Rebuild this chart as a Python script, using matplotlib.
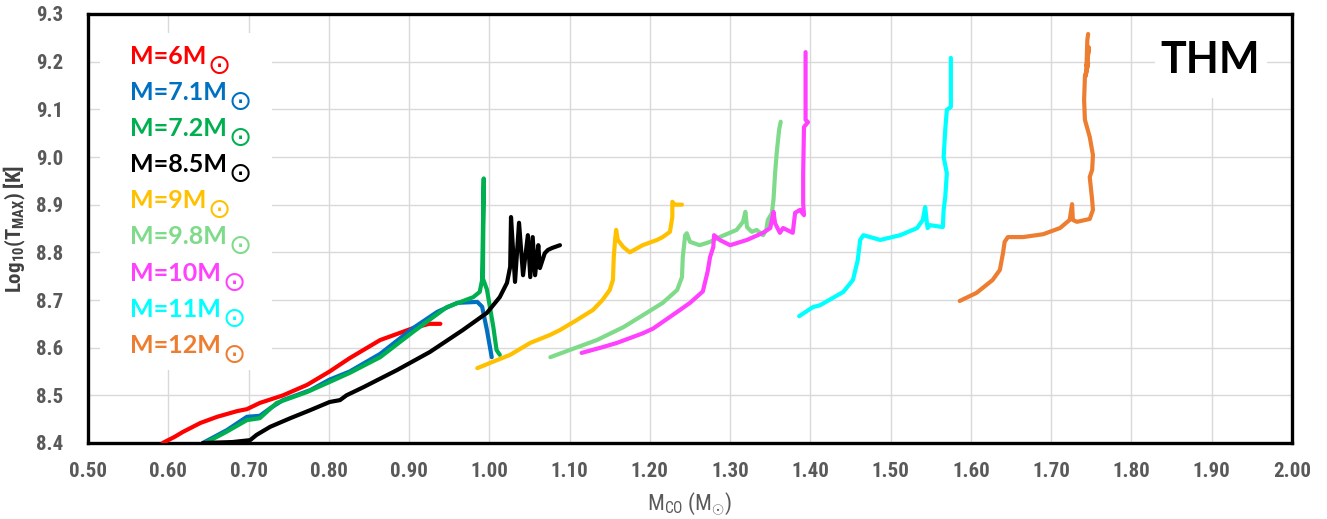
import matplotlib
matplotlib.use("Agg")
import matplotlib.pyplot as plt
from matplotlib import font_manager as fm
from matplotlib.patches import Rectangle
import os

# ---- data: CO core mass (Msun) vs log10 of maximum temperature (K) ----
red_x = [0.593, 0.608, 0.618, 0.640, 0.661, 0.686, 0.698, 0.714, 0.743, 0.773, 0.801, 0.826, 0.864, 0.905, 0.925, 0.939]
red_y = [8.400, 8.413, 8.423, 8.442, 8.455, 8.467, 8.471, 8.484, 8.500, 8.522, 8.550, 8.578, 8.616, 8.641, 8.650, 8.650]

blue_x = [0.643, 0.673, 0.698, 0.714, 0.727, 0.743, 0.777, 0.801, 0.826, 0.864, 0.905, 0.935, 0.960, 0.985, 0.991, 0.997, 1.003]
blue_y = [8.400, 8.427, 8.455, 8.457, 8.473, 8.490, 8.511, 8.533, 8.550, 8.587, 8.641, 8.675, 8.694, 8.696, 8.686, 8.637, 8.580]

green_x = [0.646, 0.672, 0.698, 0.714, 0.735, 0.773, 0.801, 0.826, 0.864, 0.905, 0.947, 0.980, 0.988, 0.991,
           0.993, 0.992, 0.997, 1.005, 1.009, 1.013]
green_y = [8.400, 8.423, 8.448, 8.452, 8.484, 8.507, 8.528, 8.547, 8.580, 8.633, 8.685, 8.706, 8.717, 8.742,
           8.955, 8.745, 8.722, 8.643, 8.595, 8.585]

black_x = [0.643, 0.680, 0.702, 0.710, 0.727, 0.752, 0.777, 0.801, 0.814, 0.822, 0.843, 0.885, 0.926, 0.967,
           0.997, 1.013, 1.022, 1.026, 1.027, 1.032, 1.037, 1.042, 1.048, 1.051, 1.054, 1.057, 1.061, 1.063,
           1.069, 1.073, 1.078, 1.088]
black_y = [8.400, 8.402, 8.406, 8.417, 8.434, 8.452, 8.469, 8.486, 8.490, 8.500, 8.517, 8.553, 8.591, 8.637,
           8.673, 8.706, 8.736, 8.770, 8.874, 8.738, 8.862, 8.752, 8.836, 8.748, 8.832, 8.752, 8.815, 8.767,
           8.798, 8.805, 8.809, 8.815]

yellow_x = [0.985, 1.001, 1.026, 1.051, 1.076, 1.088, 1.109, 1.129, 1.141, 1.150, 1.154, 1.155, 1.157, 1.158,
            1.160, 1.167, 1.175, 1.191, 1.209, 1.216, 1.225, 1.228, 1.228, 1.231, 1.240]
yellow_y = [8.557, 8.568, 8.585, 8.610, 8.627, 8.637, 8.658, 8.679, 8.700, 8.721, 8.742, 8.790, 8.832, 8.847,
            8.826, 8.811, 8.800, 8.815, 8.826, 8.832, 8.843, 8.874, 8.906, 8.900, 8.900]

lgreen_x = [1.076, 1.100, 1.134, 1.167, 1.196, 1.216, 1.234, 1.240, 1.241, 1.244, 1.246, 1.250, 1.262, 1.275,
            1.287, 1.308, 1.316, 1.319, 1.321, 1.327, 1.333, 1.341, 1.345, 1.347, 1.352, 1.354, 1.356, 1.358,
            1.361, 1.363]
lgreen_y = [8.580, 8.595, 8.616, 8.643, 8.673, 8.694, 8.721, 8.748, 8.790, 8.836, 8.840, 8.822, 8.815, 8.822,
            8.832, 8.847, 8.864, 8.885, 8.853, 8.843, 8.847, 8.836, 8.847, 8.868, 8.882, 8.910, 8.966, 9.008,
            9.057, 9.074]

magenta_x = [1.115, 1.141, 1.159, 1.191, 1.204, 1.234, 1.250, 1.266, 1.272, 1.275, 1.279, 1.280, 1.287, 1.300,
             1.321, 1.341, 1.350, 1.354, 1.356, 1.362, 1.366, 1.378, 1.381, 1.387, 1.392, 1.391, 1.391, 1.392,
             1.397, 1.394, 1.394]
magenta_y = [8.589, 8.601, 8.610, 8.630, 8.640, 8.675, 8.694, 8.718, 8.760, 8.790, 8.811, 8.836, 8.826, 8.815,
             8.826, 8.841, 8.851, 8.885, 8.861, 8.841, 8.851, 8.841, 8.883, 8.889, 8.878, 8.903, 8.966, 9.063,
             9.073, 9.078, 9.220]

cyan_x = [1.386, 1.403, 1.412, 1.441, 1.453, 1.459, 1.462, 1.466, 1.487, 1.512, 1.533, 1.540, 1.543, 1.545,
          1.546, 1.549, 1.565, 1.566, 1.568, 1.570, 1.566, 1.568, 1.570, 1.575, 1.575]
cyan_y = [8.666, 8.685, 8.689, 8.717, 8.742, 8.784, 8.826, 8.836, 8.826, 8.836, 8.851, 8.868, 8.895, 8.864,
          8.851, 8.857, 8.853, 8.889, 8.916, 8.966, 9.000, 9.057, 9.099, 9.105, 9.208]

orange_x = [1.586, 1.607, 1.627, 1.636, 1.640, 1.642, 1.646, 1.665, 1.690, 1.711, 1.723, 1.726, 1.727, 1.732,
            1.748, 1.752, 1.751, 1.748, 1.751, 1.752, 1.748, 1.742, 1.741, 1.742, 1.746, 1.743, 1.747, 1.744,
            1.745, 1.746]
orange_y = [8.698, 8.715, 8.742, 8.763, 8.799, 8.822, 8.832, 8.832, 8.838, 8.851, 8.868, 8.901, 8.868, 8.864,
            8.870, 8.889, 8.910, 8.958, 8.973, 9.004, 9.042, 9.078, 9.120, 9.168, 9.197, 9.170, 9.230, 9.190,
            9.245, 9.258]

labels = ["M=6M", "M=7.1M", "M=7.2M", "M=8.5M", "M=9M", "M=9.8M", "M=10M", "M=11M", "M=12M"]
colors = ["#FF0000", "#0070C0", "#00B050", "#000000", "#FFC000", "#7FDB8A", "#FF40FF", "#00FFFF", "#ED7D31"]

series = [(red_x, red_y), (blue_x, blue_y), (green_x, green_y), (black_x, black_y), (yellow_x, yellow_y),
          (lgreen_x, lgreen_y), (magenta_x, magenta_y), (cyan_x, cyan_y), (orange_x, orange_y)]

x_ticks = [0.50, 0.60, 0.70, 0.80, 0.90, 1.00, 1.10, 1.20, 1.30, 1.40, 1.50, 1.60, 1.70, 1.80, 1.90, 2.00]
y_ticks = [8.4, 8.5, 8.6, 8.7, 8.8, 8.9, 9.0, 9.1, 9.2, 9.3]


def pick_font(*names, bold=False):
    """Return the first family that is installed (with a real bold face if asked)."""
    for n in names:
        try:
            path = fm.findfont(fm.FontProperties(family=n, weight="bold" if bold else "normal"),
                               fallback_to_default=False)
        except ValueError:
            continue
        if bold and not any(k in os.path.basename(path).lower() for k in ("bold", "black", "heavy")):
            continue
        return n
    return "DejaVu Sans"


COND = pick_font("Liberation Sans Narrow", "Roboto Condensed", "Open Sans Condensed", "Liberation Sans")
LEG = pick_font("Lato", "Roboto", "Inter", "Noto Sans", "Open Sans", "Liberation Sans", bold=True)

plt.rcParams["mathtext.fontset"] = "custom"
plt.rcParams["mathtext.rm"] = COND
plt.rcParams["mathtext.bf"] = COND + ":bold"
plt.rcParams["mathtext.it"] = COND

GRAY = "#595959"

fig = plt.figure(figsize=(13.27, 5.19), dpi=100)
ax = fig.add_axes([88 / 1327, 1 - 443 / 519, (1292 - 88) / 1327, (443 - 14) / 519])

for (xs, ys), c in zip(series, colors):
    ax.plot(xs, ys, color=c, lw=3.0, solid_capstyle="round", solid_joinstyle="round", zorder=3)

ax.set_xlim(0.5, 2.0)
ax.set_ylim(8.4, 9.3)
ax.set_xticks(x_ticks)
ax.set_yticks(y_ticks)
ax.set_xticklabels([f"{v:.2f}" for v in x_ticks])
ax.set_yticklabels([f"{v:.1f}" for v in y_ticks])
ax.tick_params(length=0, labelsize=15, labelcolor=GRAY)
ax.tick_params(axis="x", pad=14)
ax.tick_params(axis="y", pad=18)
for lab in ax.get_xticklabels() + ax.get_yticklabels():
    lab.set_fontfamily(COND)
    lab.set_fontweight("bold")

ax.set_axisbelow(True)
ax.grid(True, color="#D9D9D9", lw=1.0)
for s in ax.spines.values():
    s.set_linewidth(2.4)
    s.set_color("black")

ax.set_xlabel(r"M$_{\mathrm{CO}}$ (M$_{\odot}$)", fontsize=16, color=GRAY, family=COND)
ax.xaxis.set_label_coords(0.5, -0.11)
ax.set_ylabel(r"Log$_{\mathbf{10}}$(T$_{\mathbf{MAX}}$) [K]", fontsize=15, color="#404040",
              family=COND, fontweight="bold")
ax.yaxis.set_label_coords(-0.05, 0.5)

# white panels behind the legend text and the model tag
ax.add_patch(Rectangle(((100 - 88) / 1204, (443 - 370) / 429), 172 / 1204, 337 / 429,
                       transform=ax.transAxes, facecolor="white", edgecolor="none", zorder=1))
ax.add_patch(Rectangle(((1155 - 88) / 1204, (443 - 98) / 429), 112 / 1204, 84 / 429,
                       transform=ax.transAxes, facecolor="white", edgecolor="none", zorder=1))

# legend written as coloured text with a solar-mass symbol
for i, (lab, c) in enumerate(zip(labels, colors)):
    base_px = 64 + 36.1 * i
    t = ax.text((130 - 88) / 1204, (443 - base_px) / 429, lab, transform=ax.transAxes,
                fontsize=18, fontweight="bold", family=LEG, color=c, ha="left", va="baseline", zorder=4)
    ax.annotate("\u2299", xy=(1, 0), xycoords=t, xytext=(1, 1.5), textcoords="offset points",
                fontsize=20, family="DejaVu Sans", color=c, ha="left", va="center", zorder=4)

ax.text((1210 - 88) / 1204, (443 - 60) / 429, "THM", transform=ax.transAxes, fontsize=31,
        fontweight="bold", family=LEG, color="black", ha="center", va="center", zorder=4)

fig.savefig("out.png", dpi=100)
